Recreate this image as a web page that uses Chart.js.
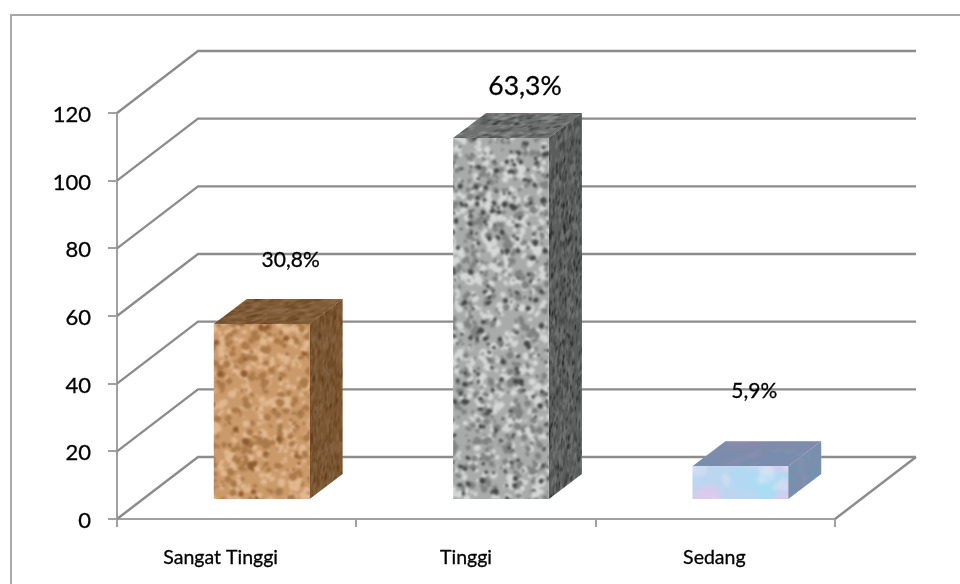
<!DOCTYPE html>
<html>
<head>
<meta charset="utf-8">
<style>html,body{margin:0;padding:0;background:#fff}canvas{display:block}</style>
<script src="https://cdn.jsdelivr.net/npm/chart.js@4"></script>
</head>
<body>
<canvas id="chart" width="960" height="584"></canvas>
<script>
// Respondents per category, with the share printed above each column
const categories = ['Sangat Tinggi', 'Tinggi', 'Sedang'];
const counts = [52, 107, 10];
const shareLabels = ['30,8%', '63,3%', '5,9%'];
const yTicks = [0, 20, 40, 60, 80, 100, 120];

const WALL = '#8c8c8c', AXIS = '#a0a0a0', FRAME = '#a8a8a8';
const DEPTH = { x: 81, y: -62 };      // floor depth of the box
const BAR_SHIFT = { x: 25, y: -19 };  // columns stand part-way back on the floor
const BAR_DEPTH = { x: 33, y: -25 };  // depth of a column
const TILE = 640;

// Small deterministic generator so the surface grain is the same on every draw
function grain(seed) {
  let s = seed;
  return () => (s = (s * 16807) % 2147483647) / 2147483647;
}

// Paints a blotchy surface texture into a repeating pattern
function texture(seed, base, layers, blur) {
  const margin = 30, size = TILE + margin * 2;
  const c = document.createElement('canvas');
  c.width = size; c.height = size;
  const g = c.getContext('2d');
  const r = grain(seed);
  g.fillStyle = base;
  g.fillRect(0, 0, size, size);
  for (const l of layers) {
    g.fillStyle = l.color;
    for (let i = 0; i < l.n; i++) {
      const rad = l.min + r() * (l.max - l.min);
      g.beginPath();
      g.ellipse(r() * size, r() * size, rad, rad * (0.5 + r() * 0.7), r() * 3, 0, 6.3);
      g.fill();
    }
  }
  const out = document.createElement('canvas');
  out.width = TILE; out.height = TILE;
  const o = out.getContext('2d');
  o.filter = `blur(${blur}px)`;
  o.drawImage(c, -margin, -margin);
  return document.createElement('canvas').getContext('2d').createPattern(out, 'repeat');
}

const cork = texture(4711, '#cb9a6b', [
  { color: '#e2b88f', n: 9000, min: 1.2, max: 3.8 },
  { color: '#ab7a4b', n: 6500, min: 1.2, max: 4 },
  { color: '#8f5c2f', n: 1100, min: 1, max: 3.6 }
], 1);
const granite = texture(9173, '#a9abab', [
  { color: '#d6d8d8', n: 8000, min: 1.5, max: 4 },
  { color: '#808282', n: 6000, min: 1.5, max: 3.6 },
  { color: '#454747', n: 3600, min: 1, max: 3 }
], 1);
const marble = texture(2203, '#bcd6f0', [
  { color: 'rgba(232,198,236,.4)', n: 700, min: 5, max: 18 },
  { color: 'rgba(165,222,244,.4)', n: 700, min: 5, max: 18 },
  { color: 'rgba(238,234,250,.3)', n: 600, min: 3, max: 9 }
], 1.6);

const barTextures = [cork, granite, marble];
const topShade = ['rgba(70,42,14,.55)', 'rgba(40,40,40,.45)', 'rgba(85,95,130,.62)'];
const sideShade = ['rgba(66,38,10,.58)', 'rgba(20,20,20,.52)', 'rgba(80,100,130,.62)'];

// Fills a parallelogram spanned by the two edge vectors with a shaded texture
function face(ctx, ox, oy, ax, ay, bx, by, w, h, tex, shade) {
  ctx.save();
  ctx.transform(ax / w, ay / w, bx / h, by / h, ox, oy);
  ctx.fillStyle = tex;
  ctx.fillRect(0, 0, w, h);
  ctx.fillStyle = shade;
  ctx.fillRect(0, 0, w, h);
  ctx.restore();
}

// Draws text with a faint outline so it keeps the weight of the axis numbers
function boldText(c, text, x, y) {
  c.strokeStyle = '#000';
  c.lineWidth = 0.3;
  c.strokeText(text, x, y);
  c.fillText(text, x, y);
}

const box3d = {
  id: 'box3d',
  beforeDraw(chart) {
    const c = chart.ctx;
    c.save();
    c.strokeStyle = FRAME;
    c.lineWidth = 2;
    c.beginPath();
    c.moveTo(11, 584); c.lineTo(11, 15); c.lineTo(960, 15);
    c.stroke();
    c.restore();
  },
  beforeDatasetsDraw(chart) {
    const c = chart.ctx, y = chart.scales.y, a = chart.chartArea;
    c.save();
    c.strokeStyle = WALL;
    c.lineWidth = 2.4;
    // Side wall and back wall rules, one per axis tick
    y.ticks.forEach(t => {
      const py = y.getPixelForValue(t.value);
      c.beginPath();
      c.moveTo(a.left, py);
      c.lineTo(a.left + DEPTH.x, py + DEPTH.y);
      c.lineTo(a.right + DEPTH.x, py + DEPTH.y);
      c.stroke();
    });
    // Right edge of the floor
    c.beginPath();
    c.moveTo(a.right, a.bottom);
    c.lineTo(a.right + DEPTH.x, a.bottom + DEPTH.y);
    c.stroke();
    c.restore();
    // Top and side faces of each column
    chart.getDatasetMeta(0).data.forEach((bar, i) => {
      const p = bar.getProps(['x', 'y', 'base', 'width'], true);
      const left = p.x - p.width / 2 + BAR_SHIFT.x;
      const right = left + p.width;
      const top = p.y + BAR_SHIFT.y;
      const bottom = p.base + BAR_SHIFT.y;
      face(c, left, top, p.width, 0, BAR_DEPTH.x, BAR_DEPTH.y, p.width, 60, barTextures[i], topShade[i]);
      face(c, right, top, BAR_DEPTH.x, BAR_DEPTH.y, 0, bottom - top, 96, bottom - top, barTextures[i], sideShade[i]);
    });
  },
  // The library draws the front faces, moved onto the columns' floor position
  beforeDatasetDraw(chart) {
    chart.ctx.save();
    chart.ctx.translate(BAR_SHIFT.x, BAR_SHIFT.y);
  },
  afterDatasetDraw(chart) {
    chart.ctx.restore();
  },
  afterDatasetsDraw(chart) {
    const c = chart.ctx, x = chart.scales.x;
    c.save();
    c.fillStyle = '#000';
    c.textAlign = 'center';
    c.textBaseline = 'middle';
    // Share labels, each placed by hand relative to its column top
    const placed = [
      { dx: 29, dy: -64, size: 21 },
      { dx: 24, dy: -52, size: 26.5 },
      { dx: 14, dy: -75, size: 21 }
    ];
    chart.getDatasetMeta(0).data.forEach((bar, i) => {
      const m = placed[i];
      c.font = `${m.size}px Lato`;
      boldText(c, shareLabels[i], bar.x + BAR_SHIFT.x + m.dx, bar.y + BAR_SHIFT.y + m.dy);
    });
    // Category captions sit a little left of their slot centres
    const nudge = [-16, -10, -1];
    c.font = '19.5px Lato';
    categories.forEach((name, i) => {
      boldText(c, name, x.getPixelForValue(i) + nudge[i], 558);
    });
    c.restore();
  }
};

new Chart(document.getElementById('chart'), {
  type: 'bar',
  data: {
    labels: categories,
    datasets: [{
      data: counts,
      backgroundColor: barTextures,
      borderWidth: 0,
      categoryPercentage: 0.4,
      barPercentage: 1,
      clip: false
    }]
  },
  plugins: [box3d],
  options: {
    responsive: false,
    animation: false,
    layout: { padding: { top: 113, right: 125, left: 0, bottom: 0 } },
    plugins: { legend: { display: false }, tooltip: { enabled: false } },
    scales: {
      x: {
        afterFit(s) { s.height = 65; },
        border: { color: AXIS, width: 2 },
        grid: { drawOnChartArea: false, drawTicks: true, tickLength: 8, color: AXIS, lineWidth: 2 },
        ticks: { display: false }
      },
      y: {
        min: 0,
        max: 120,
        afterFit(s) { s.width = 117; },
        afterBuildTicks(s) { s.ticks = yTicks.map(value => ({ value })); },
        border: { color: AXIS, width: 2 },
        grid: { drawOnChartArea: false, drawTicks: true, tickLength: 9, color: AXIS, lineWidth: 2 },
        ticks: {
          color: '#000',
          padding: 17,
          labelOffset: 2,
          textStrokeColor: '#000',
          textStrokeWidth: 0.3,
          font: { family: 'Lato', size: 22 }
        }
      }
    }
  }
});
</script>
</body>
</html>
